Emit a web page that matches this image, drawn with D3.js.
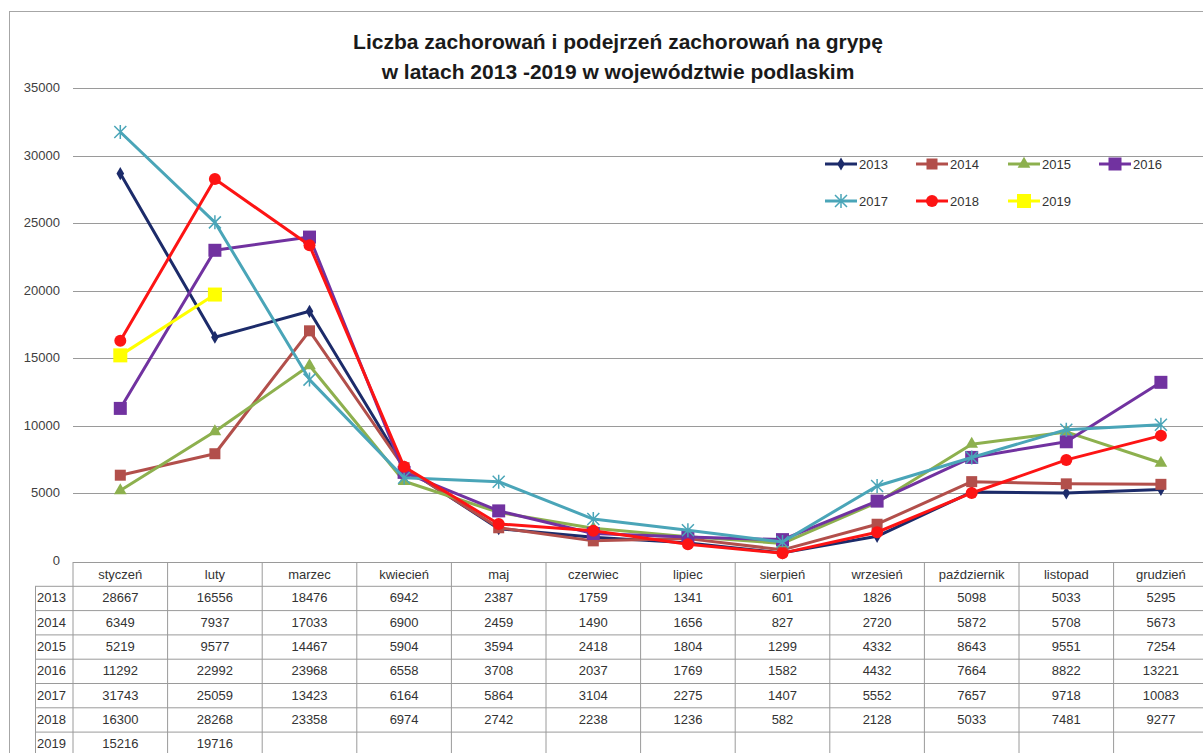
<!DOCTYPE html>
<html>
<head>
<meta charset="utf-8">
<script src="https://cdn.jsdelivr.net/npm/d3@7"></script>
<style>
  html, body { margin: 0; padding: 0; background: #fff; overflow: hidden; }
  svg { display: block; font-family: "Liberation Sans", Arial, sans-serif; }
</style>
</head>
<body>
<script>
// dane z tabeli
const months = ["styczeń", "luty", "marzec", "kwiecień", "maj", "czerwiec", "lipiec", "sierpień", "wrzesień", "październik", "listopad", "grudzień"];
const years = ["2013", "2014", "2015", "2016", "2017", "2018", "2019"];
const v2013 = [28667, 16556, 18476, 6942, 2387, 1759, 1341, 601, 1826, 5098, 5033, 5295];
const v2014 = [6349, 7937, 17033, 6900, 2459, 1490, 1656, 827, 2720, 5872, 5708, 5673];
const v2015 = [5219, 9577, 14467, 5904, 3594, 2418, 1804, 1299, 4332, 8643, 9551, 7254];
const v2016 = [11292, 22992, 23968, 6558, 3708, 2037, 1769, 1582, 4432, 7664, 8822, 13221];
const v2017 = [31743, 25059, 13423, 6164, 5864, 3104, 2275, 1407, 5552, 7657, 9718, 10083];
const v2018 = [16300, 28268, 23358, 6974, 2742, 2238, 1236, 582, 2128, 5033, 7481, 9277];
const v2019 = [15216, 19716];
const yTicks = [0, 5000, 10000, 15000, 20000, 25000, 30000, 35000];
const titleLines = ["Liczba zachorowań i podejrzeń zachorowań na grypę", "w latach 2013 -2019 w województwie podlaskim"];

const series = [
  {name: "2013", values: v2013, color: "#1c2b6a", marker: "diamond"},
  {name: "2014", values: v2014, color: "#b24f4b", marker: "square"},
  {name: "2015", values: v2015, color: "#8db04e", marker: "triangle"},
  {name: "2016", values: v2016, color: "#7132a0", marker: "bigsquare"},
  {name: "2017", values: v2017, color: "#4aa5b8", marker: "star"},
  {name: "2018", values: v2018, color: "#fd1414", marker: "circle"},
  {name: "2019", values: v2019, color: "#ffff00", marker: "yellowsquare"}
];

const W = 1203, H = 753;
const svg = d3.select("body").append("svg")
    .attr("width", W)
    .attr("height", H);

// ramka wykresu
svg.append("rect")
    .attr("x", 9.5).attr("y", 11.5)
    .attr("width", 1300).attr("height", 900)
    .attr("fill", "none").attr("stroke", "#a6a6a6");

const x = d3.scaleBand().domain(months).range([73, 73 + 12 * 94.6]);
const y = d3.scaleLinear().domain([0, 35000]).range([561, 88]);

// siatka
svg.append("g").selectAll("line")
    .data(yTicks.filter(d => d > 0))
    .enter().append("line")
    .attr("x1", 73).attr("x2", W)
    .attr("y1", d => Math.round(y(d)) + 0.5).attr("y2", d => Math.round(y(d)) + 0.5)
    .attr("stroke", "#9a9a9a").attr("stroke-width", 1.2);

// etykiety osi Y
svg.append("g").selectAll("text")
    .data(yTicks)
    .enter().append("text")
    .attr("x", 60).attr("y", d => y(d) + 4)
    .attr("text-anchor", "end")
    .attr("font-size", "13px").attr("fill", "#404040")
    .text(d => d);

// tytul
svg.append("g").selectAll("text")
    .data(titleLines)
    .enter().append("text")
    .attr("x", 618).attr("y", (d, i) => 49 + i * 30)
    .attr("text-anchor", "middle")
    .attr("font-size", "21px").attr("font-weight", "bold").attr("fill", "#1a1a1a")
    .text(d => d);

// tabela danych
const rowH = 24.3;
const tableTop = 562;
const tbl = svg.append("g");
const right = 73 + 12 * 94.6;
tbl.append("line").attr("x1", 73).attr("x2", right).attr("y1", tableTop + 0.5).attr("y2", tableTop + 0.5)
    .attr("stroke", "#9a9a9a");
years.forEach((yr, i) => {
  const yy = tableTop + rowH * (i + 1);
  tbl.append("line").attr("x1", 35).attr("x2", right).attr("y1", yy).attr("y2", yy)
      .attr("stroke", "#9a9a9a");
});
tbl.append("line").attr("x1", 35.5).attr("x2", 35.5).attr("y1", tableTop + rowH).attr("y2", H)
    .attr("stroke", "#9a9a9a");
months.forEach(m => {
  tbl.append("line").attr("x1", x(m)).attr("x2", x(m)).attr("y1", tableTop).attr("y2", H)
      .attr("stroke", "#9a9a9a");
});
tbl.selectAll("text.head")
    .data(months)
    .enter().append("text")
    .attr("class", "head")
    .attr("x", d => x(d) + x.bandwidth() / 2).attr("y", tableTop + 17)
    .attr("text-anchor", "middle")
    .attr("font-size", "13px").attr("fill", "#333")
    .text(d => d);
series.forEach((s, i) => {
  const ry = tableTop + rowH * (i + 1) + 16;
  tbl.append("text").attr("x", 37).attr("y", ry)
      .attr("font-size", "13px").attr("fill", "#333")
      .text(s.name);
  tbl.selectAll("text.v" + s.name)
      .data(s.values)
      .enter().append("text")
      .attr("x", (d, j) => x(months[j]) + x.bandwidth() / 2).attr("y", ry)
      .attr("text-anchor", "middle")
      .attr("font-size", "13px").attr("fill", "#333")
      .text(d => d);
});

// znaczniki
function drawMarker(g, type, color, cx, cy) {
  if (type === "diamond") {
    g.append("path").attr("d", d3.symbol(d3.symbolDiamond, 50)())
        .attr("transform", `translate(${cx},${cy})`).attr("fill", color);
  } else if (type === "square") {
    g.append("rect").attr("x", cx - 5.5).attr("y", cy - 5.5).attr("width", 11).attr("height", 11).attr("fill", color);
  } else if (type === "bigsquare") {
    g.append("rect").attr("x", cx - 6.5).attr("y", cy - 6.5).attr("width", 13).attr("height", 13).attr("fill", color);
  } else if (type === "yellowsquare") {
    g.append("rect").attr("x", cx - 7).attr("y", cy - 7).attr("width", 14).attr("height", 14).attr("fill", color);
  } else if (type === "triangle") {
    g.append("path").attr("d", d3.symbol(d3.symbolTriangle, 70)())
        .attr("transform", `translate(${cx},${cy})`).attr("fill", color);
  } else if (type === "circle") {
    g.append("circle").attr("cx", cx).attr("cy", cy).attr("r", 6).attr("fill", color);
  } else if (type === "star") {
    g.append("path").attr("d", `M${cx - 6},${cy - 6}L${cx + 6},${cy + 6}M${cx - 6},${cy + 6}L${cx + 6},${cy - 6}M${cx},${cy - 7}L${cx},${cy + 7}`)
        .attr("stroke", color).attr("stroke-width", 1.5).attr("fill", "none");
  }
}

const line = d3.line()
    .x((d, j) => x(months[j]) + x.bandwidth() / 2)
    .y(d => y(d));

const plot = svg.append("g");
series.forEach(s => {
  const g = plot.append("g");
  g.append("path").datum(s.values)
      .attr("d", line)
      .attr("fill", "none").attr("stroke", s.color).attr("stroke-width", 3)
      .attr("stroke-linejoin", "round");
  s.values.forEach((v, j) => drawMarker(g, s.marker, s.color, x(months[j]) + x.bandwidth() / 2, y(v)));
});

// legenda
const legendX = [825, 916, 1008, 1099];
const legend = svg.append("g");
series.forEach((s, i) => {
  const lx = legendX[i % 4];
  const ly = i < 4 ? 164 : 201;
  legend.append("line").attr("x1", lx).attr("x2", lx + 32).attr("y1", ly).attr("y2", ly)
      .attr("stroke", s.color).attr("stroke-width", 3);
  drawMarker(legend, s.marker, s.color, lx + 16, ly);
  legend.append("text").attr("x", lx + 34).attr("y", ly + 5)
      .attr("font-size", "13px").attr("fill", "#333")
      .text(s.name);
});
</script>
</body>
</html>
